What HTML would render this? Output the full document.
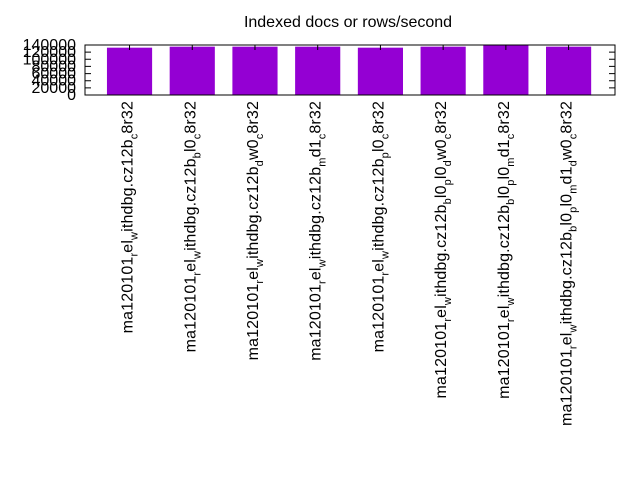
<!DOCTYPE html>
<html><head><meta charset="utf-8"><style>
body{margin:0;background:#fff}
svg{display:block;font-family:"Liberation Sans",sans-serif}
</style></head><body>
<svg id="chart" width="640" height="480">
<text x="348" y="27" text-anchor="middle" font-size="16">Indexed docs or rows/second</text>
<g id="bars"></g><g id="yaxis"></g><g id="xaxis"></g>
<rect x="85" y="45" width="530" height="50" fill="none" stroke="#000" stroke-width="1"/>
</svg>
<script>
const categories=[
 [["ma120101",0],["r",1],["el",0],["w",1],["ithdbg.cz12b",0],["c",1],["8r32",0]],
 [["ma120101",0],["r",1],["el",0],["w",1],["ithdbg.cz12b",0],["b",1],["l0",0],["c",1],["8r32",0]],
 [["ma120101",0],["r",1],["el",0],["w",1],["ithdbg.cz12b",0],["d",1],["w0",0],["c",1],["8r32",0]],
 [["ma120101",0],["r",1],["el",0],["w",1],["ithdbg.cz12b",0],["m",1],["d1",0],["c",1],["8r32",0]],
 [["ma120101",0],["r",1],["el",0],["w",1],["ithdbg.cz12b",0],["p",1],["l0",0],["c",1],["8r32",0]],
 [["ma120101",0],["r",1],["el",0],["w",1],["ithdbg.cz12b",0],["b",1],["l0",0],["p",1],["l0",0],["d",1],["w0",0],["c",1],["8r32",0]],
 [["ma120101",0],["r",1],["el",0],["w",1],["ithdbg.cz12b",0],["b",1],["l0",0],["p",1],["l0",0],["m",1],["d1",0],["c",1],["8r32",0]],
 [["ma120101",0],["r",1],["el",0],["w",1],["ithdbg.cz12b",0],["b",1],["l0",0],["p",1],["l0",0],["m",1],["d1",0],["d",1],["w0",0],["c",1],["8r32",0]]
];
const values=[132500,135300,135300,135300,132500,135300,139500,135300];
const yTicks=[0,20000,40000,60000,80000,100000,120000,140000];
const NS="http://www.w3.org/2000/svg";
const L=85,R=615,T=45,B=95,xmin=-0.71,xmax=7.74,ymax=140000;
const xs=v=>L+(v-xmin)/(xmax-xmin)*(R-L);
const ys=v=>B-v/ymax*(B-T);
const mk=(t,a,p)=>{const e=document.createElementNS(NS,t);for(const k in a)e.setAttribute(k,a[k]);p.appendChild(e);return e;};
const bars=document.getElementById('bars'),ya=document.getElementById('yaxis'),xa=document.getElementById('xaxis');
values.forEach((v,i)=>{
 const r=mk('rect',{x:xs(i-0.36),y:ys(v),width:xs(0.36)-xs(-0.36),height:B-ys(v),fill:'#9400d3'},bars);
 
 
 const tk=mk('path',{d:`M${xs(i)},${T}v5`,stroke:'#000'},xa);
 
 
 const x=xs(i)+3,y=101;
 const t=mk('text',{transform:`translate(${x},${y}) rotate(-90)`,'text-anchor':'end','font-size':16,'letter-spacing':'0.15'},xa);
 
 
 let prev=0;
 categories[i].forEach(([s,sub])=>{
  const ts=mk('tspan',{},t);
  if(sub){ts.setAttribute('font-size','11');ts.setAttribute('dy','5');}
  else if(prev){ts.setAttribute('dy','-5');}
  prev=sub;ts.textContent=s;
 });
});
yTicks.forEach(v=>{
 const p=mk('path',{d:`M${L},${ys(v)}h6M${R},${ys(v)}h-6`,stroke:'#000'},ya);
 
 
 const t=mk('text',{x:76,y:ys(v)+5,'text-anchor':'end','font-size':16},ya);
 
 
 t.textContent=v;
});
</script>
</body></html>
